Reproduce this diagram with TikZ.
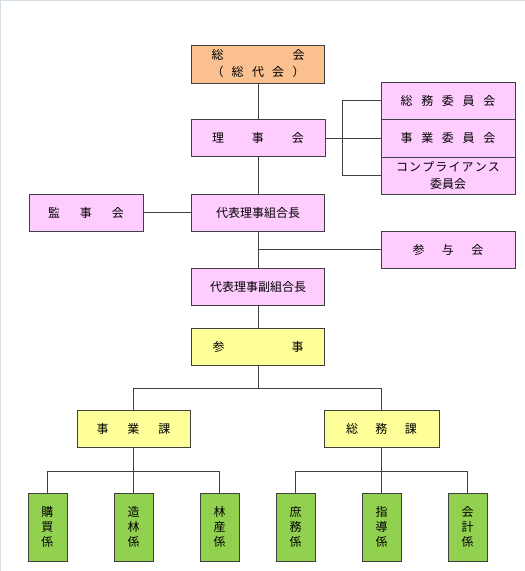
\documentclass[tikz,border=0pt]{standalone}
\usepackage{fontspec}
\usetikzlibrary{calc}
\newfontfamily\jp{Noto Sans CJK JP}
\definecolor{orangefill}{HTML}{FAC090}
\definecolor{pinkfill}{HTML}{FFCCFF}
\definecolor{yellowfill}{HTML}{FFFF99}
\definecolor{greenfill}{HTML}{92D050}
\definecolor{edge}{HTML}{404040}
\definecolor{frame}{HTML}{D4DCE6}
\tikzset{
  box/.style={draw=edge, line width=0.9pt, rectangle, inner sep=0pt, align=center,
    font=\jp\fontsize{12}{18}\selectfont},
  orgbox/.style={box, fill=orangefill, minimum width=133pt, minimum height=38pt},
  pinkbox/.style={box, fill=pinkfill, minimum height=37pt},
  yelbox/.style={box, fill=yellowfill, minimum height=37pt},
  grnbox/.style={box, fill=greenfill, minimum width=39pt, minimum height=68pt,
    font=\jp\fontsize{12}{15}\selectfont},
  conn/.style={draw=edge, line width=0.8pt},
}
\newcommand{\spr}[2]{\makebox[#1pt]{#2}}
\begin{document}
\begin{tikzpicture}[x=1pt,y=-1pt]
\useasboundingbox (0,0) rectangle (525,571);
\fill[white] (0,0) rectangle (525,571);
\draw[frame, line width=1pt] (0.5,571) -- (0.5,0.5) -- (525,0.5);

% boxes
\node[orgbox] (soukai) at (258,64) {\spr{93}{総\hfill 会}\\[-1pt]\spr{93}{（\hfill 総\hfill 代\hfill 会\hfill ）}};
\node[pinkbox, minimum width=134pt] (rijikai) at (258,138) {\spr{92}{理\hfill 事\hfill 会}};
\node[pinkbox, minimum width=134pt] (c1) at (448,100.5) {\spr{95}{総\hfill 務\hfill 委\hfill 員\hfill 会}};
\node[pinkbox, minimum width=134pt, minimum height=38pt] (c2) at (448,138) {\spr{95}{事\hfill 業\hfill 委\hfill 員\hfill 会}};
\node[pinkbox, minimum width=134pt] (c3) at (448,175.5) {\spr{104}{コ\hfill ン\hfill プ\hfill ラ\hfill イ\hfill ア\hfill ン\hfill ス}\\[-1pt]委員会};
\node[pinkbox, minimum width=134pt] (sanyo) at (448,249.5) {\spr{71}{参\hfill 与\hfill 会}};
\node[pinkbox, minimum width=114pt] (kanji) at (86,212.5) {\spr{76}{監\hfill 事\hfill 会}};
\node[pinkbox, minimum width=133pt] (daihyo) at (258,212.5) {代表理事組合長};
\node[pinkbox, minimum width=133pt] (fuku) at (258,286.5) {代表理事副組合長};
\node[yelbox, minimum width=133pt] (sanji) at (258,346.5) {\spr{91}{参\hfill 事}};
\node[yelbox, minimum width=113pt] (jigyo) at (133.5,428.5) {\spr{74}{事\hfill 業\hfill 課}};
\node[yelbox, minimum width=115pt] (somu) at (381.5,428.5) {\spr{71}{総\hfill 務\hfill 課}};

\node[grnbox] (g1) at (47.5,527) {購\\買\\係};
\node[grnbox] (g2) at (133.5,527) {造\\林\\係};
\node[grnbox] (g3) at (219.5,527) {林\\産\\係};
\node[grnbox] (g4) at (295.5,527) {庶\\務\\係};
\node[grnbox] (g5) at (381.5,527) {指\\導\\係};
\node[grnbox] (g6) at (467.5,527) {会\\計\\係};

% connectors
\draw[conn] (soukai.south) -- (rijikai.north);
\draw[conn] (rijikai.south) -- (daihyo.north);
\draw[conn] (daihyo.south) -- (fuku.north);
\draw[conn] (fuku.south) -- (sanji.north);
\draw[conn] (rijikai.east) -- (c2.west);
\draw[conn] (c1.west) -- ++(-38,0) |- (c3.west);
\draw[conn] (kanji.east) -- (daihyo.west);
\draw[conn] (sanyo.west) -- (daihyo.south |- sanyo.west);

\coordinate (sj) at ($(sanji.south)+(0,23)$);
\draw[conn] (sanji.south) -- (sj);
\draw[conn] (jigyo.north) |- (sj) -| (somu.north);

\coordinate (lb) at ($(jigyo.south)+(0,24)$);
\draw[conn] (jigyo.south) -- (g2.north);
\draw[conn] (g1.north) |- (lb) -| (g3.north);

\coordinate (rb) at ($(somu.south)+(0,24)$);
\draw[conn] (somu.south) -- (g5.north);
\draw[conn] (g4.north) |- (rb) -| (g6.north);
\end{tikzpicture}
\end{document}
